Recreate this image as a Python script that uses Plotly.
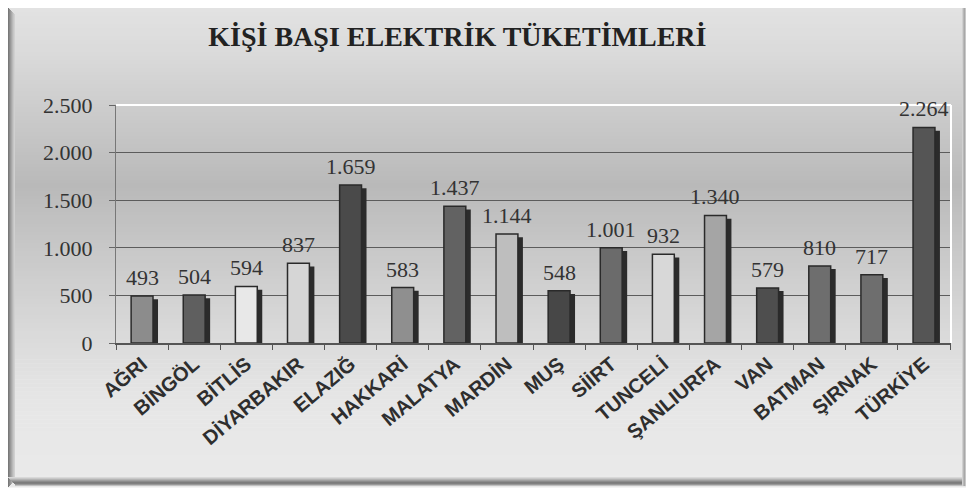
import plotly.graph_objects as go
import numpy as np

# Per-capita electricity consumption (kWh)
provinces = ["AĞRI", "BİNGÖL", "BİTLİS", "DİYARBAKIR", "ELAZIĞ", "HAKKARİ",
             "MALATYA", "MARDİN", "MUŞ", "SİİRT", "TUNCELİ", "ŞANLIURFA",
             "VAN", "BATMAN", "ŞIRNAK", "TÜRKİYE"]
consumption = [493, 504, 594, 837, 1659, 583, 1437, 1144, 548, 1001, 932,
               1340, 579, 810, 717, 2264]
y_ticks = [0, 500, 1000, 1500, 2000, 2500]
title_text = "KİŞİ BAŞI ELEKTRİK TÜKETİMLERİ"

bar_fills = ["#8c8c8c", "#5f5f5f", "#e8e8e8", "#d6d6d6", "#4a4a4a", "#8f8f8f",
             "#626262", "#bebebe", "#474747", "#6b6b6b", "#d8d8d8", "#a5a5a5",
             "#4e4e4e", "#6e6e6e", "#6e6e6e", "#555555"]

SERIF = "Liberation Serif"
SANS = "Liberation Sans"

W, H = 967, 491
L, R, T, B = 116, 16, 105, 148
PW, PH = W - L - R, H - T - B


def px_x(p):
    return (p - L) / PW


def px_y(p):
    return (H - B - p) / PH


def lab(v):
    return f"{v:,}".replace(",", ".")


def hexc(v):
    v = int(round(v))
    return f"#{v:02x}{v:02x}{v:02x}"


shapes = []

# vertical gray gradient filling the chart box
stops_y = [8, 60, 120, 185, 250, 330, 400, 487]
stops_v = [0xe2, 0xd9, 0xc9, 0xb9, 0xc8, 0xd9, 0xe6, 0xea]
n = 120
edges = np.linspace(8, 487, n + 1)
for i in range(n):
    y0, y1 = edges[i], edges[i + 1]
    v = np.interp((y0 + y1) / 2, stops_y, stops_v)
    shapes.append(dict(type="rect", xref="paper", yref="paper", layer="below",
                       x0=px_x(8), x1=px_x(966), y0=px_y(y1 + 0.6), y1=px_y(y0),
                       fillcolor=hexc(v), line=dict(width=0)))

# bevelled frame edges (left, bottom, right)
for k, v in enumerate([0x78, 0x88, 0x98, 0xa8, 0xb8, 0xc6, 0xd0]):
    shapes.append(dict(type="rect", xref="paper", yref="paper", layer="below",
                       x0=px_x(8 + k), x1=px_x(9 + k), y0=px_y(487 - k), y1=px_y(8 + k),
                       fillcolor=hexc(v), line=dict(width=0)))
for k, v in enumerate([0xd8, 0xc8, 0xb4, 0xa0, 0x8c, 0x7c, 0x80, 0x98, 0xc0, 0xe8]):
    shapes.append(dict(type="rect", xref="paper", yref="paper", layer="below",
                       x0=px_x(8 + min(k, 7)), x1=px_x(966), y0=px_y(478 + k), y1=px_y(477 + k),
                       fillcolor=hexc(v), line=dict(width=0)))
for k, v in enumerate([0xd0, 0xb8, 0xa8, 0xc8]):
    shapes.append(dict(type="rect", xref="paper", yref="paper", layer="below",
                       x0=px_x(962 + k), x1=px_x(963 + k), y0=px_y(486), y1=px_y(8),
                       fillcolor=hexc(v), line=dict(width=0)))

# white top and right borders of the plot area
shapes.append(dict(type="line", xref="paper", yref="paper", layer="above",
                   x0=0, x1=1, y0=1, y1=1, line=dict(color="white", width=2)))
shapes.append(dict(type="line", xref="paper", yref="paper", layer="above",
                   x0=1, x1=1, y0=0, y1=1, line=dict(color="white", width=2)))

units_per_px = (y_ticks[-1] - y_ticks[0]) / PH
cat_per_px = 1 / (PW / len(provinces))
bw = 0.42

fig = go.Figure()
# drop shadows behind each bar
fig.add_trace(go.Bar(
    x=provinces, y=consumption, base=-3.2 * units_per_px,
    width=bw, offset=-bw / 2 + 5 * cat_per_px,
    marker=dict(color="#2b2b2b", line=dict(width=0)),
    hoverinfo="skip", showlegend=False,
))
# main bars
fig.add_trace(go.Bar(
    x=provinces, y=consumption, width=bw, offset=-bw / 2,
    marker=dict(color=bar_fills, line=dict(color="#2a2a2a", width=1.5)),
    showlegend=False,
))

annotations = [
    dict(x=p, y=v, xref="x", yref="y", text=lab(v), showarrow=False,
         yanchor="bottom", yshift=4,
         font=dict(family=SERIF, size=22, color="#333333"))
    for p, v in zip(provinces, consumption)
]

fig.update_layout(
    width=W, height=H,
    margin=dict(l=L, r=R, t=T, b=B, pad=0),
    paper_bgcolor="white",
    plot_bgcolor="rgba(0,0,0,0)",
    separators=",.",
    barmode="overlay",
    shapes=shapes,
    annotations=annotations,
    title=dict(text=title_text, x=0.473, xanchor="center", y=1 - 36 / H,
               yanchor="middle",
               font=dict(family=SERIF, size=28, color="#222222",
                         weight="bold")),
    xaxis=dict(
        type="category", tickangle=-40, tickson="boundaries",
        ticks="outside", ticklen=5, tickcolor="#555555",
        showline=True, linecolor="#555555", linewidth=1.5,
        showgrid=False,
        tickfont=dict(family=SANS, size=20, color="#2e2e2e",
                      weight="bold"),
    ),
    yaxis=dict(
        range=[y_ticks[0], y_ticks[-1]], tickvals=y_ticks, tickformat=",d",
        ticks="outside", ticklen=6, tickcolor="#666666",
        ticklabelstandoff=12,
        showline=True, linecolor="#777777", linewidth=1,
        showgrid=True, gridcolor="#5c5c5c", gridwidth=1,
        zeroline=False,
        tickfont=dict(family=SERIF, size=22, color="#333333"),
    ),
)

fig.write_html("out.html")
